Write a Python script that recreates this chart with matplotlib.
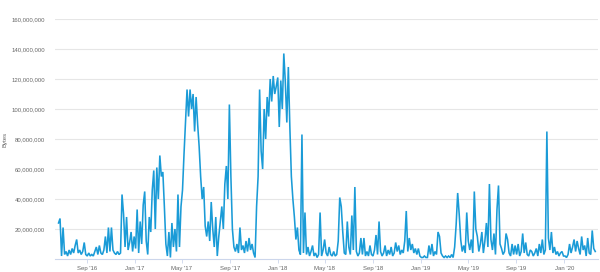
import matplotlib
matplotlib.use("Agg")
import matplotlib.pyplot as plt
import matplotlib.ticker as mticker
import pandas as pd
import numpy as np

start_date = "2016-06-21"
end_date = "2020-03-20"

# Bytes per sample, in millions
seg_2016a = [24, 27, 2, 21, 3, 5, 2, 6, 3, 7, 4, 9, 13, 4, 6, 3, 5, 11, 3]
seg_2016b = [2, 4, 2, 3, 2, 5, 8, 3, 9, 4, 3, 6, 15, 4, 21, 5, 21, 6, 4, 3,
             5, 3, 4, 43, 30, 8, 28, 6, 11, 18, 5]
seg_2017a = [15, 7, 33, 4, 25, 10, 36, 45, 12, 3, 28, 18, 46, 59, 20, 61, 40, 69,
             55, 58, 35, 10, 2, 18, 1, 24, 8, 20, 5, 43, 8]
seg_2017b = [35, 46, 70, 92, 113, 95, 113, 100, 110, 85, 108, 90, 75, 55, 40, 48,
             22, 15, 25, 12, 38, 20, 8, 28, 2, 15, 25, 35, 20, 50, 62, 40, 103, 55]
seg_2017c = [20, 8, 5, 10, 4, 21, 6, 9, 4, 12, 5, 14, 6, 10, 4, 1, 35, 55, 113, 72,
             60, 100, 80, 108, 95, 120, 105, 122, 110, 115]
seg_2018a = [121, 88, 119, 100, 137, 118, 91, 128, 88, 55, 40, 28, 13, 21, 6, 3, 83,
             4, 31, 3, 8, 2, 5, 9, 2, 4, 1, 3, 31, 2, 6, 13]
seg_2018b = [4, 2, 8, 3, 2, 5, 2, 3, 12, 41, 35, 18, 4, 3, 25, 8, 3, 29, 6, 48, 5,
             2, 4, 14, 3, 14, 2, 5, 2, 9, 3, 2, 6, 16]
seg_2018c = [3, 25, 5, 2, 4, 9, 2, 6, 3, 8, 2, 4, 11, 5, 9, 3, 6, 4, 12, 32, 5, 14,
             6, 10, 4, 7, 3, 7, 2]
seg_2019a = [1, 1, 2, 1, 1, 9, 3, 10, 2, 5, 3, 18, 15, 4, 2, 1, 2, 1, 2, 1, 3, 1, 8,
             23, 44, 30, 13, 5, 9, 4, 31, 12]
seg_2019b = [6, 13, 4, 45, 20, 15, 5, 10, 18, 4, 12, 24, 8, 50, 13, 6, 17, 3, 33, 49,
             10, 7, 3, 5, 17, 13, 4, 2, 10, 3, 9, 3]
seg_2019c = [10, 2, 5, 17, 4, 11, 3, 2, 6, 5, 2, 4, 7, 2, 10, 4, 13, 3, 6, 85, 14, 6,
             18, 4, 8, 3, 5, 2, 4, 5, 2]
seg_2020 = [2, 1, 3, 10, 4, 8, 13, 5, 12, 7, 3, 15, 6, 9, 2, 14, 4, 3, 19, 7, 5]

values_m = (seg_2016a + seg_2016b + seg_2017a + seg_2017b + seg_2017c + seg_2018a +
            seg_2018b + seg_2018c + seg_2019a + seg_2019b + seg_2019c + seg_2020)
values = np.array(values_m, dtype=float) * 1e6
dates = pd.date_range(start_date, end_date, periods=len(values))

tick_dates = ["2016-09-01", "2017-01-01", "2017-05-01", "2017-09-01", "2018-01-01",
              "2018-05-01", "2018-09-01", "2019-01-01", "2019-05-01", "2019-09-01",
              "2020-01-01"]
tick_labels = ["Sep '16", "Jan '17", "May '17", "Sep '17", "Jan '18", "May '18",
               "Sep '18", "Jan '19", "May '19", "Sep '19", "Jan '20"]
y_ticks = [20e6, 40e6, 60e6, 80e6, 100e6, 120e6, 140e6, 160e6]

plt.rcParams['font.family'] = ['Liberation Sans', 'DejaVu Sans']

fig = plt.figure(figsize=(6.0, 2.72), dpi=100)
ax = fig.add_axes([55/600, 13/272, 543/600, 240/272])

ax.plot(dates, values, color="#1a9bd7", lw=1.15, solid_joinstyle="miter")

ax.set_ylim(0, 160e6)
ax.set_xlim(pd.Timestamp("2016-06-12"), pd.Timestamp("2020-03-27"))
ax.set_yticks(y_ticks)
ax.yaxis.set_major_formatter(mticker.FuncFormatter(lambda v, p: f"{int(v):,}"))
ax.set_xticks(pd.to_datetime(tick_dates))
ax.set_xticklabels(tick_labels)

ax.grid(axis="y", color="#e6e6e6", lw=0.8)
ax.set_axisbelow(True)
for s in ["top", "right", "left"]:
    ax.spines[s].set_visible(False)
ax.spines["bottom"].set_color("#ccd6eb")
ax.spines["bottom"].set_linewidth(0.8)
ax.tick_params(axis="y", length=0, pad=7, labelsize=4.3, labelcolor="#666666")
ax.tick_params(axis="x", length=3, width=0.6, color="#ccd6eb", pad=2,
               labelsize=4.3, labelcolor="#666666")
ax.set_ylabel("Bytes", fontsize=4.3, color="#666666", labelpad=3)

fig.savefig("out.png", dpi=100)
